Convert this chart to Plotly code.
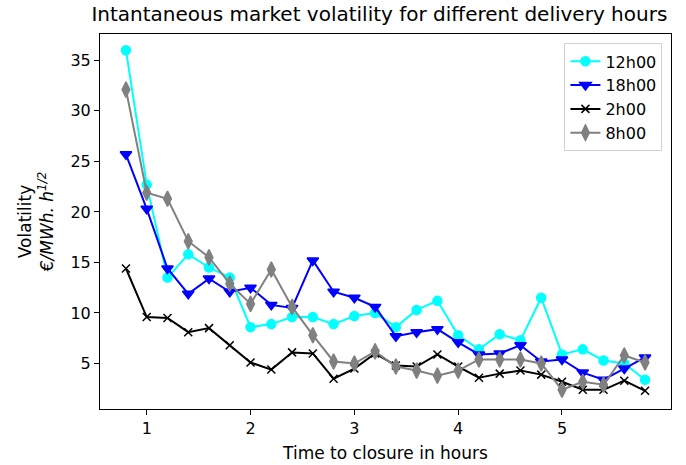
import plotly.graph_objects as go

# Time to closure (hours) and volatility per delivery hour
hours_to_close = [0.8, 1.0, 1.2, 1.4, 1.6, 1.8, 2.0, 2.2, 2.4, 2.6, 2.8, 3.0, 3.2,
                  3.4, 3.6, 3.8, 4.0, 4.2, 4.4, 4.6, 4.8, 5.0, 5.2, 5.4, 5.6, 5.8]

vol_12h = [36.0, 22.7, 13.5, 15.8, 14.5, 13.5, 8.6, 8.9, 9.6, 9.6, 8.9, 9.7, 10.0,
           8.6, 10.3, 11.2, 7.8, 6.4, 7.9, 7.3, 11.5, 5.9, 6.4, 5.3, 5.0, 3.4]
vol_18h = [25.7, 20.3, 14.4, 11.9, 13.4, 12.1, 12.5, 10.8, 10.5, 15.2, 12.1, 11.5, 10.6,
           7.7, 8.1, 8.4, 7.1, 5.9, 6.0, 6.8, 5.2, 5.4, 4.1, 3.4, 4.5, 5.6]
vol_2h = [14.4, 9.6, 9.5, 8.1, 8.5, 6.8, 5.1, 4.4, 6.1, 6.0, 3.5, 4.5, 6.0,
          4.8, 4.7, 5.9, 4.7, 3.6, 4.0, 4.3, 3.9, 3.2, 2.4, 2.4, 3.3, 2.3]
vol_8h = [32.1, 21.9, 21.3, 17.1, 15.5, 12.9, 10.9, 14.3, 10.6, 7.8, 5.2, 5.0, 6.2,
          4.7, 4.3, 3.8, 4.3, 5.4, 5.4, 5.4, 5.0, 2.4, 3.2, 2.9, 5.8, 5.1]

series_names = ["12h00", "18h00", "2h00", "8h00"]
series_values = [vol_12h, vol_18h, vol_2h, vol_8h]
series_colors = ["#00FFFF", "#0000FF", "#000000", "#808080"]
series_symbols = ["circle", "triangle-down", "x-thin-open", "diamond-tall"]
series_sizes = [9, 10, 8, 11]

fig = go.Figure()
for name, vals, color, sym, size in zip(series_names, series_values,
                                        series_colors, series_symbols, series_sizes):
    fig.add_trace(go.Scatter(
        x=hours_to_close, y=vals, name=name, mode="lines+markers",
        line=dict(color=color, width=2),
        marker=dict(symbol=sym, size=size, color=color,
                    line=dict(color=color, width=1.5)),
    ))

axis_common = dict(
    showline=True, mirror=True, linecolor="black", linewidth=1,
    ticks="outside", ticklen=5, tickwidth=1, tickcolor="black",
    showgrid=False, zeroline=False, automargin=False,
    tickfont=dict(family="DejaVu Sans", size=16, color="black"),
)

fig.update_layout(
    width=686, height=465,
    paper_bgcolor="white", plot_bgcolor="white",
    margin=dict(l=100, r=15, t=34, b=56),
    font=dict(family="DejaVu Sans", color="black"),
    title=dict(text="Intantaneous market volatility for different delivery hours",
               x=0.553, xanchor="center", y=0.985, yanchor="top",
               font=dict(size=20, family="DejaVu Sans", color="black")),
    xaxis=dict(range=[0.55, 6.05], tickvals=[1, 2, 3, 4, 5],
               title=dict(text="Time to closure in hours",
                          font=dict(size=17, family="DejaVu Sans"), standoff=9),
               **axis_common),
    yaxis=dict(range=[0.5, 37.6], tickvals=[5, 10, 15, 20, 25, 30, 35],
               title=dict(text="Volatility<br><i>€/MWh. h</i><sup><i>1/2</i></sup>",
                          font=dict(size=17, family="DejaVu Sans"), standoff=12),
               **axis_common),
    legend=dict(x=0.985, y=0.975, xanchor="right", yanchor="top",
                bgcolor="white", bordercolor="#d0d0d0", borderwidth=1,
                font=dict(size=16, family="DejaVu Sans"),
                tracegroupgap=2),
    showlegend=True,
)

fig.write_html("out.html")
